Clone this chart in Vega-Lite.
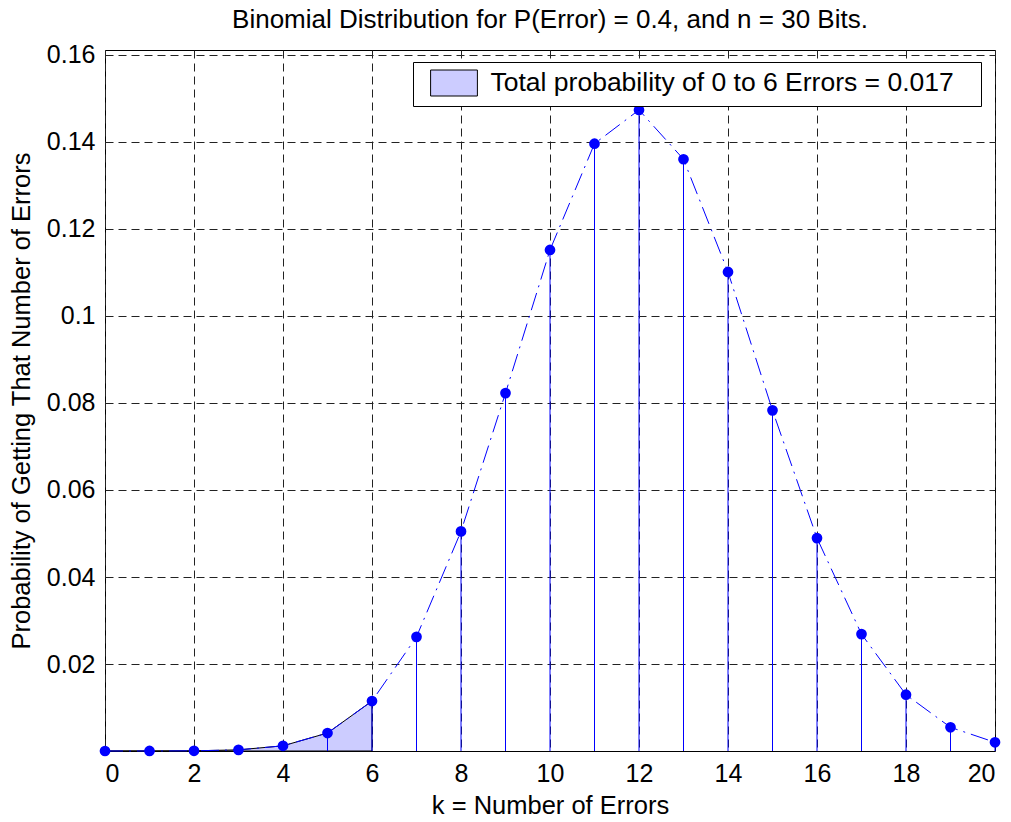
{
  "$schema": "https://vega.github.io/schema/vega-lite/v6.json",
  "width": 890,
  "height": 701,
  "autosize": {"type": "none"},
  "padding": {"left": 105, "top": 50, "right": 16, "bottom": 71},
  "background": "white",
  "title": {
    "text": "Binomial Distribution for P(Error) = 0.4, and n = 30 Bits.",
    "font": "Liberation Sans",
    "fontSize": 26,
    "fontWeight": "normal",
    "color": "black",
    "baseline": "bottom",
    "offset": 16,
    "dy": 32,
    "frame": "group",
    "anchor": "middle"
  },
  "data": {
    "values": [
      {"k": 0, "p": 0.0000002},
      {"k": 1, "p": 0.0000044},
      {"k": 2, "p": 0.0000426},
      {"k": 3, "p": 0.000265},
      {"k": 4, "p": 0.0011924},
      {"k": 5, "p": 0.0041335},
      {"k": 6, "p": 0.0114807},
      {"k": 7, "p": 0.0262416},
      {"k": 8, "p": 0.0504863},
      {"k": 9, "p": 0.0822724},
      {"k": 10, "p": 0.1151813},
      {"k": 11, "p": 0.1396137},
      {"k": 12, "p": 0.14737},
      {"k": 13, "p": 0.1360339},
      {"k": 14, "p": 0.1101227},
      {"k": 15, "p": 0.0783096},
      {"k": 16, "p": 0.0489435},
      {"k": 17, "p": 0.0268691},
      {"k": 18, "p": 0.0129368},
      {"k": 19, "p": 0.0054471},
      {"k": 20, "p": 0.0019973}
    ]
  },
  "encoding": {
    "x": {
      "field": "k",
      "type": "quantitative",
      "scale": {"domain": [0, 20], "nice": false, "zero": false},
      "axis": {
        "title": "k = Number of Errors",
        "values": [0, 2, 4, 6, 8, 10, 12, 14, 16, 18, 20],
        "format": "d",
        "grid": true,
        "ticks": false,
        "domain": false,
        "labelPadding": 10,
        "titlePadding": 7
      }
    },
    "y": {
      "field": "p",
      "type": "quantitative",
      "scale": {"domain": [0, 0.1611494], "nice": false, "zero": true},
      "axis": {
        "title": "Probability of Getting That Number of Errors",
        "values": [0.02, 0.04, 0.06, 0.08, 0.1, 0.12, 0.14, 0.16],
        "format": ".2~f",
        "grid": true,
        "ticks": false,
        "domain": false,
        "labelPadding": 10,
        "titlePadding": 12
      }
    }
  },
  "layer": [
    {
      "transform": [{"filter": "datum.k <= 6"}],
      "mark": {"type": "area", "stroke": "black", "strokeWidth": 1, "fillOpacity": 1},
      "encoding": {
        "fill": {
          "datum": "Total probability of 0 to 6 Errors = 0.017",
          "type": "nominal",
          "scale": {"range": ["#ccccff"]},
          "legend": {
            "title": "MM",
            "titleOrient": "right",
            "titleColor": "#ffffff",
            "titleFontSize": 12,
            "titlePadding": 0,
            "orient": "none",
            "legendX": 308,
            "legendY": 12,
            "direction": "vertical",
            "symbolType": "M-1.8,-1H1.8V1H-1.8Z",
            "symbolSize": 676,
            "symbolStrokeColor": "black",
            "symbolStrokeWidth": 1,
            "symbolOpacity": 1,
            "symbolOffset": 20,
            "labelFont": "Liberation Sans",
            "labelFontSize": 26.5,
            "labelColor": "black",
            "labelOffset": 23,
            "labelLimit": 800,
            "strokeColor": "black",
            "fillColor": "white",
            "padding": 7.5
          }
        }
      }
    },
    {
      "mark": {"type": "rule", "color": "#0000ff", "strokeWidth": 1},
      "encoding": {"y2": {"datum": 0}}
    },
    {
      "mark": {"type": "line", "color": "#0000ff", "strokeWidth": 1, "strokeDash": [18, 6, 2, 6]}
    },
    {
      "mark": {"type": "point", "shape": "circle", "filled": true, "color": "#0000ff", "size": 115, "opacity": 1}
    }
  ],
  "config": {
    "font": "Liberation Sans",
    "view": {"stroke": "black", "strokeWidth": 1},
    "axis": {
      "labelFont": "Liberation Sans",
      "labelFontSize": 25,
      "labelColor": "black",
      "titleFont": "Liberation Sans",
      "titleFontSize": 25.5,
      "titleFontWeight": "normal",
      "titleColor": "black",
      "gridColor": "#222222",
      "gridOpacity": 1,
      "gridDash": [8, 5],
      "gridWidth": 1
    }
  }
}
